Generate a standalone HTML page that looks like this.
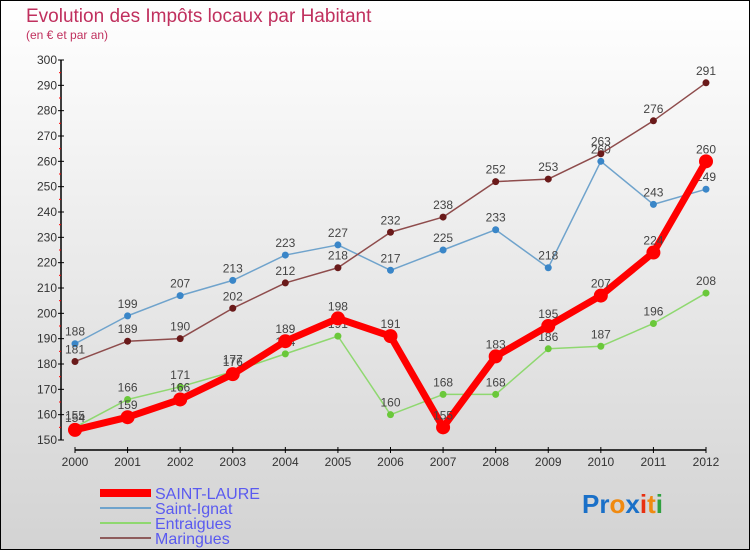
<!DOCTYPE html>
<html><head><meta charset="utf-8"><style>
body{margin:0;}
#wrap{width:750px;height:550px;position:relative;box-sizing:border-box;border:1px solid #000;background:linear-gradient(#fff,#d3d3d3);font-family:"Liberation Sans",sans-serif;overflow:hidden;}
</style></head><body>
<div id="wrap">
<svg id="svg" width="750" height="550" style="position:absolute;left:-1px;top:-1px">
<text x="26" y="22" font-size="19" fill="#c0305e">Evolution des Impôts locaux par Habitant</text>
<text x="26" y="39" font-size="12" fill="#c0305e">(en € et par an)</text>
<g id="axes"></g><g id="series"></g>
<g font-size="16" fill="#5a5af0">
<rect x="100" y="489" width="51" height="8" fill="#f00"/>
<text x="155" y="499">SAINT-LAURE</text>
<line x1="100" y1="508" x2="151" y2="508" stroke="#6fa3cc" stroke-width="2"/>
<text x="155" y="514">Saint-Ignat</text>
<line x1="100" y1="523" x2="151" y2="523" stroke="#8fd870" stroke-width="2"/>
<text x="155" y="529">Entraigues</text>
<line x1="100" y1="538" x2="151" y2="538" stroke="#8e5c5c" stroke-width="2"/>
<text x="155" y="544">Maringues</text>
</g>
<text x="582" y="513" font-size="26" font-weight="bold"><tspan fill="#1a70c8">Pr</tspan><tspan fill="#f08a10">o</tspan><tspan fill="#1a70c8">x</tspan><tspan fill="#e83010">i</tspan><tspan fill="#f08a10">t</tspan><tspan fill="#30a040">i</tspan></text>
</svg>
</div>
<script>
const years=[2000,2001,2002,2003,2004,2005,2006,2007,2008,2009,2010,2011,2012];
const saintLaure=[154,159,166,176,189,198,191,155,183,195,207,224,260];
const saintIgnat=[188,199,207,213,223,227,217,225,233,218,260,243,249];
const entraigues=[155,166,171,177,184,191,160,168,168,186,187,196,208];
const maringues=[181,189,190,202,212,218,232,238,252,253,263,276,291];
const yTicks=[150,160,170,180,190,200,210,220,230,240,250,260,270,280,290,300];
const NS="http://www.w3.org/2000/svg";
const x=i=>75+i*(706-75)/(years.length-1);
const y=v=>440-(v-150)*(380/150);
function mk(tag,attrs,parent){const e=document.createElementNS(NS,tag);for(const k in attrs)e.setAttribute(k,attrs[k]);parent.appendChild(e);return e;}
const ax=document.getElementById('axes');
const yAxis=mk('line',{x1:61,y1:y(300),x2:61,y2:y(150),stroke:'#000','stroke-width':1.5},ax);


yTicks.forEach(v=>{
  mk('line',{x1:58,x2:64,y1:y(v),y2:y(v),stroke:'#000'},ax);
  if(v<300){const m=mk('line',{x1:59,x2:61,y1:y(v+5),y2:y(v+5),stroke:'#f00'},ax);}
  const t=mk('text',{x:57,y:y(v)+4,'font-size':12,fill:'#333','text-anchor':'end'},ax);
  t.textContent=v;
  
  
});
const xAxis=mk('line',{x1:75,y1:450,x2:706,y2:450,stroke:'#000','stroke-width':1.5},ax);


years.forEach((yr,i)=>{
  mk('line',{x1:x(i),x2:x(i),y1:447,y2:453,stroke:'#000'},ax);
  const t=mk('text',{x:x(i),y:466,'font-size':12,fill:'#333','text-anchor':'middle'},ax);
  t.textContent=yr;
  
  
});
const sg=document.getElementById('series');
function series(vals,name,color,w,r,dot){
  const g=mk('g',{},sg);
  
  
  const pl=mk('polyline',{points:vals.map((v,i)=>x(i)+','+y(v)).join(' '),fill:'none',stroke:color,'stroke-width':w,'stroke-linejoin':'round'},g);
  
  
  vals.forEach((v,i)=>{
    const c=mk('circle',{cx:x(i),cy:y(v),r:r,fill:dot},g);
    
    
    const t=mk('text',{x:x(i),y:y(v)-8,'font-size':12,fill:'#444','text-anchor':'middle'},g);
    t.textContent=v;
    
    
  });
}
series(saintIgnat,'saint-ignat','#6fa3cc',1.5,3.5,'#3a86c8');
series(maringues,'maringues','#8e4c4c',1.5,3.5,'#6a1a1a');
series(entraigues,'entraigues','#8fd870',1.5,3.5,'#6ac83a');
series(saintLaure,'saint-laure','#f00',7,7,'#f00');
</script>
</body></html>
